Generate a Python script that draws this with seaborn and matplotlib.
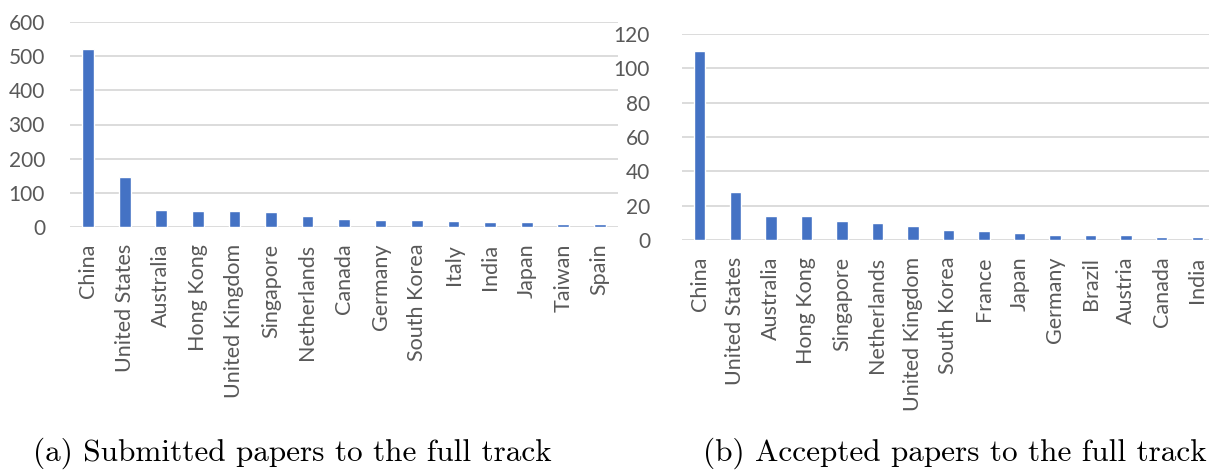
import matplotlib
matplotlib.use('Agg')
import matplotlib.pyplot as plt
import seaborn as sns
import pandas as pd

# data
sub_countries = ['China', 'United States', 'Australia', 'Hong Kong', 'United Kingdom',
                 'Singapore', 'Netherlands', 'Canada', 'Germany', 'South Korea',
                 'Italy', 'India', 'Japan', 'Taiwan', 'Spain']
sub_counts = [520, 147, 51, 47, 47, 45, 31, 23, 20, 20, 18, 16, 16, 10, 8]

acc_countries = ['China', 'United States', 'Australia', 'Hong Kong', 'Singapore',
                 'Netherlands', 'United Kingdom', 'South Korea', 'France', 'Japan',
                 'Germany', 'Brazil', 'Austria', 'Canada', 'India']
acc_counts = [110, 28, 14, 14, 11, 10, 8, 6, 5, 4, 3, 3, 3, 2, 2]

sub_ticks = [0, 100, 200, 300, 400, 500, 600]
acc_ticks = [0, 20, 40, 60, 80, 100, 120]

captions = ['(a) Submitted papers to the full track',
            '(b) Accepted papers to the full track']

sns.set_style('white')
plt.rcParams['font.family'] = ['Lato', 'DejaVu Sans']

W, H = 1209, 471
fig = plt.figure(figsize=(W / 100, H / 100), dpi=100)

bar_color = '#4472C4'
grid_color = '#D9D9D9'
text_color = '#595959'


def panel(rect, countries, counts, ticks, ypad, xpad):
    ax = fig.add_axes(rect)
    df = pd.DataFrame({'country': countries, 'count': counts})
    sns.barplot(data=df, x='country', y='count', color=bar_color, width=0.32,
                saturation=1, ax=ax, zorder=3)
    ax.set_ylim(ticks[0], ticks[-1])
    ax.set_yticks(ticks)
    ax.set_xlim(-0.5, len(countries) - 0.5)
    ax.grid(axis='y', color=grid_color, lw=1.3, zorder=0)
    ax.grid(axis='x', visible=False)
    for s in ax.spines.values():
        s.set_visible(False)
    ax.set_xlabel('')
    ax.set_ylabel('')
    ax.tick_params(axis='y', length=0, pad=ypad, labelsize=15, colors=text_color)
    ax.tick_params(axis='x', length=0, pad=xpad, labelsize=15.5, colors=text_color,
                   labelrotation=90)
    return ax


# pixel layouts -> figure fractions
panel([70 / W, 1 - 227 / H, 548 / W, 205 / H], sub_countries, sub_counts, sub_ticks, 18, 12)
panel([682 / W, 1 - 240 / H, 533 / W, 206 / H], acc_countries, acc_counts, acc_ticks, 23, 12)

fig.text(292 / W, 1 - 453 / H, captions[0], family='cmr10', fontsize=22.5,
         ha='center', va='center', color='black')
fig.text(955 / W, 1 - 453 / H, captions[1], family='cmr10', fontsize=22.5,
         ha='center', va='center', color='black')

fig.savefig('out.png', dpi=100)
